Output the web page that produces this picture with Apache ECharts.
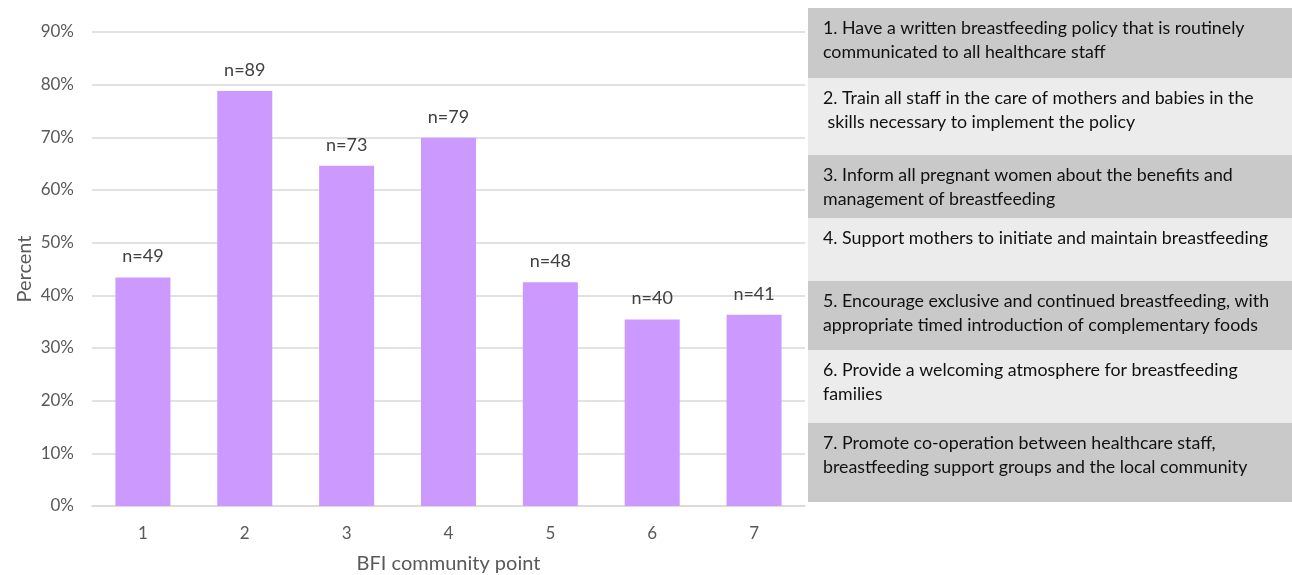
<!DOCTYPE html>
<html>
<head>
<meta charset="utf-8">
<script src="https://cdn.jsdelivr.net/npm/echarts@6/dist/echarts.min.js"></script>
<style>
  html, body { margin: 0; padding: 0; background: #fff; }
  #chart { width: 1292px; height: 575px; }
</style>
</head>
<body>
<div id="chart"></div>
<script>
// chart data
const points = ['1', '2', '3', '4', '5', '6', '7'];
const percent = [43.4, 78.8, 64.6, 69.9, 42.5, 35.4, 36.3];
const counts = [49, 89, 73, 79, 48, 40, 41];
const yTicks = [0, 90, 10]; // min, max, step

// the seven BFI community points (right-hand key)
const pointTexts = [
  '1. Have a written breastfeeding policy that is routinely\ncommunicated to all healthcare staff',
  '2. Train all staff in the care of mothers and babies in the\n skills necessary to implement the policy',
  '3. Inform all pregnant women about the benefits and\nmanagement of breastfeeding',
  '4. Support mothers to initiate and maintain breastfeeding',
  '5. Encourage exclusive and continued breastfeeding, with\nappropriate timed introduction of complementary foods',
  '6. Provide a welcoming atmosphere for breastfeeding\nfamilies',
  '7. Promote co-operation between healthcare staff,\nbreastfeeding support groups and the local community'
];

const FONT = 'Lato, "Open Sans", sans-serif';
const chart = echarts.init(document.getElementById('chart'));

// row edges of the key box (pixels)
const rowEdges = [8, 78, 155, 218, 281, 350, 423, 502];
const keyGraphics = [];
pointTexts.forEach((t, i) => {
  keyGraphics.push({
    type: 'rect',
    left: 808,
    top: rowEdges[i],
    shape: { width: 484, height: rowEdges[i + 1] - rowEdges[i] },
    style: { fill: i % 2 === 0 ? '#c9c9c9' : '#ececec' },
    silent: true
  });
  keyGraphics.push({
    type: 'text',
    left: 823,
    top: rowEdges[i] + 8,
    style: {
      text: t,
      font: '17.8px ' + FONT,
      fill: '#111',
      lineHeight: 24
    },
    silent: true
  });
});

chart.setOption({
  animation: false,
  textStyle: { fontFamily: FONT },
  grid: { left: 92, right: 487, top: 32, bottom: 69, outerBoundsMode: 'none', containLabel: false },
  xAxis: {
    type: 'category',
    data: points,
    name: 'BFI community point',
    nameLocation: 'middle',
    nameGap: 48,
    nameTextStyle: { color: '#595959', fontSize: 20 },
    axisLine: { lineStyle: { color: '#d9d9d9', width: 1.5 } },
    axisTick: { show: false },
    axisLabel: { color: '#595959', fontSize: 17, margin: 19 }
  },
  yAxis: {
    type: 'value',
    min: yTicks[0],
    max: yTicks[1],
    interval: yTicks[2],
    name: 'Percent',
    nameLocation: 'middle',
    nameGap: 57,
    nameMoveOverlap: false,
    nameTextStyle: { color: '#595959', fontSize: 20 },
    axisLine: { show: false },
    axisTick: { show: false },
    axisLabel: { color: '#595959', fontSize: 17, margin: 18, formatter: '{value}%' },
    splitLine: { lineStyle: { color: '#d9d9d9', width: 1.5 } }
  },
  series: [{
    type: 'bar',
    data: percent,
    barWidth: '54%',
    itemStyle: { color: '#cc99ff' },
    label: {
      show: true,
      position: 'top',
      distance: 12,
      color: '#404040',
      fontSize: 18,
      formatter: p => 'n=' + counts[p.dataIndex]
    }
  }],
  graphic: keyGraphics
});
</script>
</body>
</html>
